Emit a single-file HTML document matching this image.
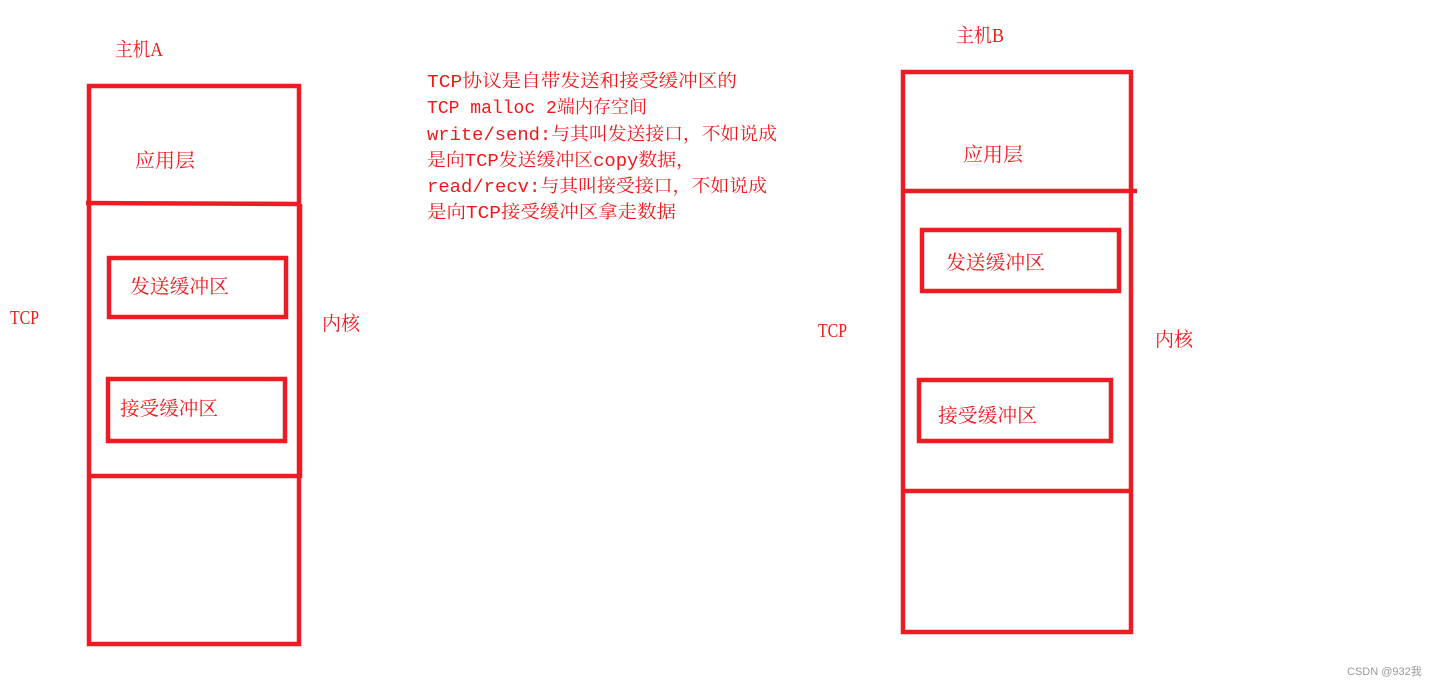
<!DOCTYPE html>
<html><head><meta charset="utf-8"><style>
html,body{margin:0;padding:0;background:#fff;}
svg{display:block;}
.t{font-family:"Liberation Serif","Noto Serif CJK SC",serif;font-size:19.5px;fill:#f01818;}
.m{font-family:"Liberation Mono","Noto Serif CJK SC",monospace;font-size:18px;fill:#f01818;}
</style></head><body>
<svg width="1439" height="686" viewBox="0 0 1439 686" xmlns="http://www.w3.org/2000/svg">
<g fill="none" stroke="#ed1c24" stroke-width="4.5">
<rect x="89" y="86" width="210" height="558"/>
<line x1="86" y1="203" x2="301" y2="204"/>
<line x1="300" y1="204" x2="300" y2="478"/>
<line x1="89" y1="476" x2="300" y2="476"/>
<rect x="109" y="258" width="177" height="59"/>
<rect x="108" y="379" width="177" height="62"/>
<rect x="903" y="72" width="228" height="560"/>
<line x1="903" y1="191" x2="1137" y2="191"/>
<line x1="903" y1="491" x2="1131" y2="491"/>
<rect x="922" y="230" width="197" height="61"/>
<rect x="919" y="380" width="192" height="61"/>
</g>
<text class="t" x="115" y="56" textLength="48" lengthAdjust="spacingAndGlyphs">主机A</text>
<text class="t" x="135" y="167" textLength="60" lengthAdjust="spacingAndGlyphs">应用层</text>
<text class="t" x="130" y="293" textLength="99" lengthAdjust="spacingAndGlyphs">发送缓冲区</text>
<text class="t" x="120" y="415" textLength="98" lengthAdjust="spacingAndGlyphs">接受缓冲区</text>
<text class="t" x="10" y="324" textLength="29" lengthAdjust="spacingAndGlyphs">TCP</text>
<text class="t" x="322" y="330" textLength="38" lengthAdjust="spacingAndGlyphs">内核</text>
<text class="t" x="956" y="42" textLength="48" lengthAdjust="spacingAndGlyphs">主机B</text>
<text class="t" x="963" y="161" textLength="60" lengthAdjust="spacingAndGlyphs">应用层</text>
<text class="t" x="946" y="269" textLength="99" lengthAdjust="spacingAndGlyphs">发送缓冲区</text>
<text class="t" x="938" y="422" textLength="99" lengthAdjust="spacingAndGlyphs">接受缓冲区</text>
<text class="t" x="818" y="337" textLength="29" lengthAdjust="spacingAndGlyphs">TCP</text>
<text class="t" x="1155" y="346" textLength="38" lengthAdjust="spacingAndGlyphs">内核</text>
<text class="m" x="427" y="87" textLength="310" lengthAdjust="spacingAndGlyphs">TCP协议是自带发送和接受缓冲区的</text>
<text class="m" x="427" y="113" textLength="220" lengthAdjust="spacingAndGlyphs">TCP malloc 2端内存空间</text>
<text class="m" x="427" y="140" textLength="350" lengthAdjust="spacingAndGlyphs">write/send:与其叫发送接口，不如说成</text>
<text class="m" x="427" y="166" textLength="268" lengthAdjust="spacingAndGlyphs">是向TCP发送缓冲区copy数据，</text>
<text class="m" x="427" y="192" textLength="340" lengthAdjust="spacingAndGlyphs">read/recv:与其叫接受接口，不如说成</text>
<text class="m" x="427" y="218" textLength="249" lengthAdjust="spacingAndGlyphs">是向TCP接受缓冲区拿走数据</text>
<text x="1347" y="675" style="font-family:'Liberation Sans','Noto Sans CJK SC',sans-serif;font-size:11px;fill:#999">CSDN @932我</text>
</svg>
</body></html>
